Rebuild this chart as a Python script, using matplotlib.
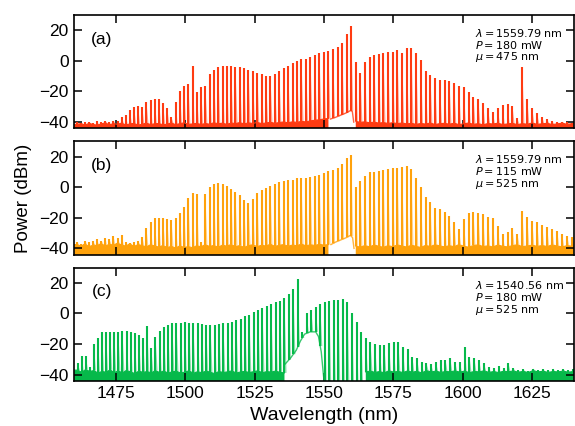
import numpy as np
import matplotlib
matplotlib.use("Agg")
import matplotlib.pyplot as plt

plt.rcParams['font.family'] = ['Liberation Sans', 'DejaVu Sans']

C = 299792.458   # nm*THz
FSR = 0.203      # comb spacing, THz
XMIN, XMAX = 1460, 1640
YMIN, YMAX = -44, 30

# pump wavelength, number of comb lines on the blue side of the pump
pump_a, nblue_a = 1559.79, 64
pump_b, nblue_b = 1559.79, 64
pump_c, nblue_c = 1540.56, 52

labels = ['(a)', '(b)', '(c)']
info_a = [r'$\lambda = 1559.79$ nm', r'$P = 180$ mW', r'$\mu = 475$ nm']
info_b = [r'$\lambda = 1559.79$ nm', r'$P = 115$ mW', r'$\mu = 525$ nm']
info_c = [r'$\lambda = 1540.56$ nm', r'$P = 180$ mW', r'$\mu = 525$ nm']
colors = ['#ff3b12', '#ffa20c', '#06b94a']

nan = np.nan

# comb line peak powers (dBm), from short to long wavelength
peaks_a = [-40, -40.5, -39.8, -40.2, -40.6, -39.5, -40.1, -39.4, -40, -39.2,
           -39.1, -36.5, -35.4, -32.2, -30, -29.6, -30, -26.7, -25.7, -24.6,
           -25, -27.8, -31.1, -37, -26.7, -19.6, -16.5, -15.2, -3.5, -20.2,
           -17, -16.5, -8.7, -5.7, -4.3, -3.5, -3.5, -3.5, -3.9, -4.3,
           -5, -5.7, -6.5, -7.8, -8.7, -10, -10, -8.7, -6.5, -5,
           -3.5, -1.7, 0, 0.9, 1.5, 2.2, 3.7, 4.8, 5.9, 6.5,
           8, 9.1, 11.7, 17.8, 22.6, -0.7, -7.8, -0.7, 2.2, 3.7,
           4.3, 5.2, 5.9, 5.9, 7, 4.8, 8.5, 8.7, 5.2, 0.4,
           -6.5, -9.3, -11.5, -12.2, -12.6, -13, -14.8, -16.5, -17.4, -20.2,
           -23.5, -25.2, -27.8, -31.1, -33.3, -31.1, -28.9, -28.3, -29.6, -37.6,
           -4.3, -25.2, -31.1, -34.3, -36.5, -38.3, -39.1, -39.8, -39.8, -39.8,
           -40.4]
peaks_b = [-36, -37, -35, -36, -35, -34, -35, -33, -34, -32,
           -33, -31, -36, -36.5, -36, -35, -32.4, -26.7, -23, -20.4,
           -20, -20, -20.9, -21.5, -20.4, -17.2, -12.8, -7.4, -3.9, -4.6,
           -36, -4.6, 0.2, 2, 2.6, 2.2, 0.9, -1.1, -3, -5.4,
           -8.5, -10.2, -7.8, -4.1, -1.7, -0.4, 0.9, 2.2, 3.3, 3.9,
           4.6, 5, 5.7, 5.7, 6.3, 6.7, 7.4, 8, 9.1, 10.5,
           11.3, 12.2, 15, 18.9, 21.1, 0.4, 4.1, 7, 9.6, 10.2,
           10.7, 11.3, 11.7, 12.2, 12.8, 13.3, 13.9, 11.7, 6.3, -0.2,
           -6.7, -10, -13.3, -14.3, -16.5, -19.1, -23, -27.4, -20.9, -17.2,
           -16.3, -17, -17.6, -19.3, -20.4, -25.2, -30.7, -29.6, -26.7, -30.7,
           -15.4, -19.8, -22.4, -23, -24.6, -26.3, -27.4, -28.5, -30.7, -32.2,
           -32.8]
peaks_c = [-32.6, -27.8, -27.8, -35, -20.2, -15.7, -12.4, -12, -12, -12,
           -12, -11.5, -11.5, -12, -12.8, -14.1, -16.3, -8, -22.4, -15.2,
           -11.3, -9.1, -7.4, -6.5, -6.1, -5.9, -5.7, -5.9, -6.3, -6.5,
           -6.7, -7.2, -7.2, -7.2, -6.7, -6.5, -5.9, -5.4, -4.3, -3.3,
           -1.7, -0.7, 1.1, 2.6, 3.7, 4.8, 5.9, 7.2, 8.3, 9.8,
           12.4, 16.3, 22.4, -12, 0, 2.2, 4.3, 6, 7.6, 8,
           8.7, 8.7, 9.3, 7.6, 0, -5.4, -12, -15.9, -18.5, -20.2,
           -20.7, -20.7, -19.6, -18.5, -18.9, -21.7, -23.3, -28.3, -29.3, -31.5,
           -32.6, -33.3, -31.5, -30.4, -30.4, -29.3, -31.5, -31.5, -21.7, -28.3,
           -29.3, -30.4, -32.6, -34.8, -35.4, -34.1, -35.9, -32.6, -35.9, -37,
           -36.5, -37.5, -36, -37, -36.5, -37, -36, -37, -36.5, -37,
           -36]

# noise floor at each comb line (nan = no floor: notch or below the axis)
floor_a = [-41.5, -41, -42, -40.8, -41.6, -42, -41.2, -40.5, -41.8, -41,
           -41.5, -40.6, -41.9, -41.2, -40.8, -42, -41.4, -40.7, -41.6, -41.1,
           -40.9, -41.8, -41.3, -40.6, -41.7, -41, -40.5, -41.5, -41.2, -40.8,
           -41.6, -40.9, -41.4, -40.4, -41.1, -40.7, -41.5, -40.6, -41, -40.3,
           -41.2, -40.5, -40.9, -40.2, -41, -40.6, -40.1, -40.8, -40.3, -39.9,
           -40.5, -39.8, -40.2, -39.5, -39.9, -39.2, -38.8, -38.5, -38, -37.6,
           nan, nan, nan, nan, nan, -39.5, -40.2, -39.8, -40.5, -40,
           -40.7, -40.3, -40.9, -40.4, -41, -40.6, -41.2, -40.8, -41.5, -40.9,
           -41.3, -40.6, -41.6, -41, -40.8, -41.4, -40.7, -41.7, -41.1, -40.6,
           -41.5, -41, -41.8, -40.9, -41.3, -40.7, -41.6, -41.2, -40.8, -41.7,
           -41, -41.4, -40.6, -41.5, -41.1, -40.8, -41.6, -41.2, -40.7, -41.5,
           -41]
floor_b = [-37.5, -38.5, -37, -39, -37.8, -38.2, -36.8, -38.6, -37.2, -38,
           -36.5, -37.8, -38.5, -37, -38.8, -37.5, -38.2, -39, -37.6, -38.4,
           -39.2, -38, -39.5, -38.6, -39.8, -38.3, -39.4, -38.8, -39.6, -38.2,
           -39, -37.5, -38.8, -38, -39.3, -37.8, -38.6, -37.4, -38.9, -38.1,
           -39.4, -38.2, -37.6, -38.9, -37.9, -38.5, -37.2, -38.7, -38, -37.5,
           -38.6, -37.8, -38.3, -37.1, -38.4, -37.6, -38.1, -37.3, -37.9, -37.5,
           nan, nan, nan, nan, nan, -38.5, -39.2, -38.1, -39, -37.8,
           -38.6, -39.3, -38.2, -38.9, -37.7, -38.5, -39.1, -37.9, -38.7, -39.4,
           -38, -38.8, -37.6, -38.4, -39, -38.2, -38.9, -37.5, -38.6, -39.2,
           -38.1, -37.7, -38.8, -38.3, -39.1, -37.8, -38.6, -39, -38.2, -37.6,
           -38.9, -38.4, -37.9, -38.7, -38.1, -38.8, -37.7, -38.5, -39, -38.2,
           -38.6]
floor_c = [-37, -38.5, -36.5, -38, -37.2, -39, -37.8, -38.4, -36.8, -38.7,
           -37.4, -38.9, -37.1, -38.2, -39.2, -37.6, -38.5, -37.9, -38.8, -37.3,
           -38.6, -37.5, -39, -38.1, -37.7, -38.9, -38.3, -37.4, -39.1, -38,
           -38.7, -37.6, -38.4, -39.3, -37.8, -38.6, -38.1, -37.5, -38.9, -38.2,
           -37.8, -38.6, -38, -37.4, -38.8, -37.9, -38.3, -37.6, -38.5, -38.8,
           nan, nan, nan, nan, nan, nan, nan, nan, nan, nan,
           nan, nan, nan, nan, nan, nan, nan, -38.2, -37.6, -38.5,
           -37.9, -38.8, -37.4, -38.3, -37.8, -38.6, -37.5, -38.4, -37.7, -38.9,
           -37.3, -38.2, -37.6, -38.5, -37.9, -38.1, -37.5, -38.3, -37.6, -38.7,
           -37.8, -38.2, -37.4, -38.5, -37.9, -38.6, -37.7, -38.1, -37.5, -38.4,
           -37.8, -38.6, -37.3, -38.2, -37.7, -38.5, -37.9, -38.2, -37.6, -38.4,
           -37.9]

# residual pump pedestal inside the filter notch
ped_wl_a = [1552.3, 1554, 1556, 1558, 1559.5, 1560.2, 1560.7]
ped_db_a = [-38, -37, -35.5, -34, -32.5, -33, -40]
ped_wl_b = [1552.5, 1554, 1556, 1558, 1559.5, 1560.3, 1560.8]
ped_db_b = [-37.5, -36, -34.5, -33, -31.5, -33, -40]
ped_wl_c = [1536, 1538, 1540, 1541.5, 1543, 1545, 1547, 1548, 1549, 1550]
ped_db_c = [-33, -29, -24, -18, -13.5, -12, -12, -15, -25, -44]

panels = [
    (pump_a, nblue_a, peaks_a, floor_a, ped_wl_a, ped_db_a, info_a),
    (pump_b, nblue_b, peaks_b, floor_b, ped_wl_b, ped_db_b, info_b),
    (pump_c, nblue_c, peaks_c, floor_c, ped_wl_c, ped_db_c, info_c),
]

fig = plt.figure(figsize=(5.75, 4.26), dpi=100)
axes = fig.subplots(3, 1, sharex=True)
fig.subplots_adjust(left=0.129, right=0.998, top=0.965, bottom=0.106, hspace=0.115)

for n, ax in enumerate(axes):
    pump, nblue, peaks, floor, ped_wl, ped_db, info = panels[n]
    col = colors[n]
    k = nblue - np.arange(len(peaks))
    lam = C / (C / pump + k * FSR)
    peak = np.array(peaks, dtype=float)
    flo = np.array(floor, dtype=float)

    # where the line starts: noise floor, pedestal, or below the axis
    base = flo.copy()
    inside = np.isnan(flo) & (lam >= ped_wl[0]) & (lam <= ped_wl[-1])
    base[inside] = np.interp(lam[inside], ped_wl, ped_db)
    base[np.isnan(base)] = YMIN - 5

    xf = np.r_[XMIN, lam, XMAX]
    yf = np.r_[flo[0], flo, flo[-1]]
    ax.fill_between(xf, YMIN - 5, yf, color=col, lw=0)
    ax.plot(xf, yf, color=col, lw=0.8)

    # light skirt next to every line (instrument resolution)
    gaps = np.full_like(lam, nan)
    tx = np.column_stack([lam - 0.2, lam, lam + 0.75, lam + 0.75]).ravel()
    ty = np.column_stack([base, peak, base, gaps]).ravel()
    tb = np.column_stack([base, base, base, gaps]).ravel()
    ax.fill_between(tx, tb, ty, color=col, alpha=0.45, lw=0)
    ax.vlines(lam, base, peak, color=col, lw=1.5)
    ax.plot(ped_wl, ped_db, color=col, lw=1.0, alpha=0.8)

    ax.set_xlim(XMIN, XMAX)
    ax.set_ylim(YMIN, YMAX)
    ax.set_yticks([-40, -20, 0, 20])
    ax.set_xticks([1475, 1500, 1525, 1550, 1575, 1600, 1625])
    ax.tick_params(direction='in', length=5.5, width=1.1, top=True, right=True,
                   labelsize=12.5, pad=4)
    for s in ax.spines.values():
        s.set_linewidth(1.2)

    ax.text(0.055, 0.785, labels[n], transform=ax.transAxes, fontsize=12.5,
            ha='center', va='center')
    ax.text(0.803, 0.895, '\n'.join(info), transform=ax.transAxes,
            fontsize=8, family='DejaVu Sans', ha='left', va='top',
            linespacing=0.98)

axes[1].set_ylabel('Power (dBm)', fontsize=13.5, labelpad=5)
axes[2].set_xlabel('Wavelength (nm)', fontsize=14, labelpad=4)

fig.savefig('out.png', dpi=100)
